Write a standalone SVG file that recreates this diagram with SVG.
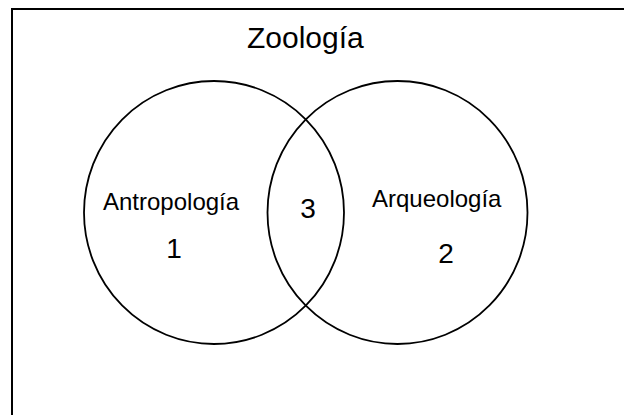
<svg xmlns="http://www.w3.org/2000/svg" width="624" height="415" viewBox="0 0 624 415">
<style>
.frame{fill:none;stroke:#000;stroke-width:2}
.set{fill:none;stroke:#000;stroke-width:1.8}
.t{font-family:"Liberation Sans",Arial,sans-serif;fill:#000}
.title{font-size:30px}
.lbl{font-size:24px}
.num{font-size:28px;text-anchor:middle}
</style>
<rect class="frame" x="12" y="9" width="700" height="500"/>
<g id="title"><text class="t title" x="247" y="48">Zoología</text></g>
<g id="antropologia">
<ellipse class="set" cx="214" cy="212.5" rx="130" ry="131.5"/>
<text class="t lbl" x="103" y="210">Antropología</text>
<text class="t num" x="174" y="258">1</text>
</g>
<g id="arqueologia">
<ellipse class="set" cx="397.5" cy="212.5" rx="130" ry="131.5"/>
<text class="t lbl" x="372" y="207">Arqueología</text>
<text class="t num" x="446" y="263">2</text>
</g>
<g id="interseccion"><text class="t num" x="308" y="218">3</text></g>
<g id="connectors"/>
</svg>
